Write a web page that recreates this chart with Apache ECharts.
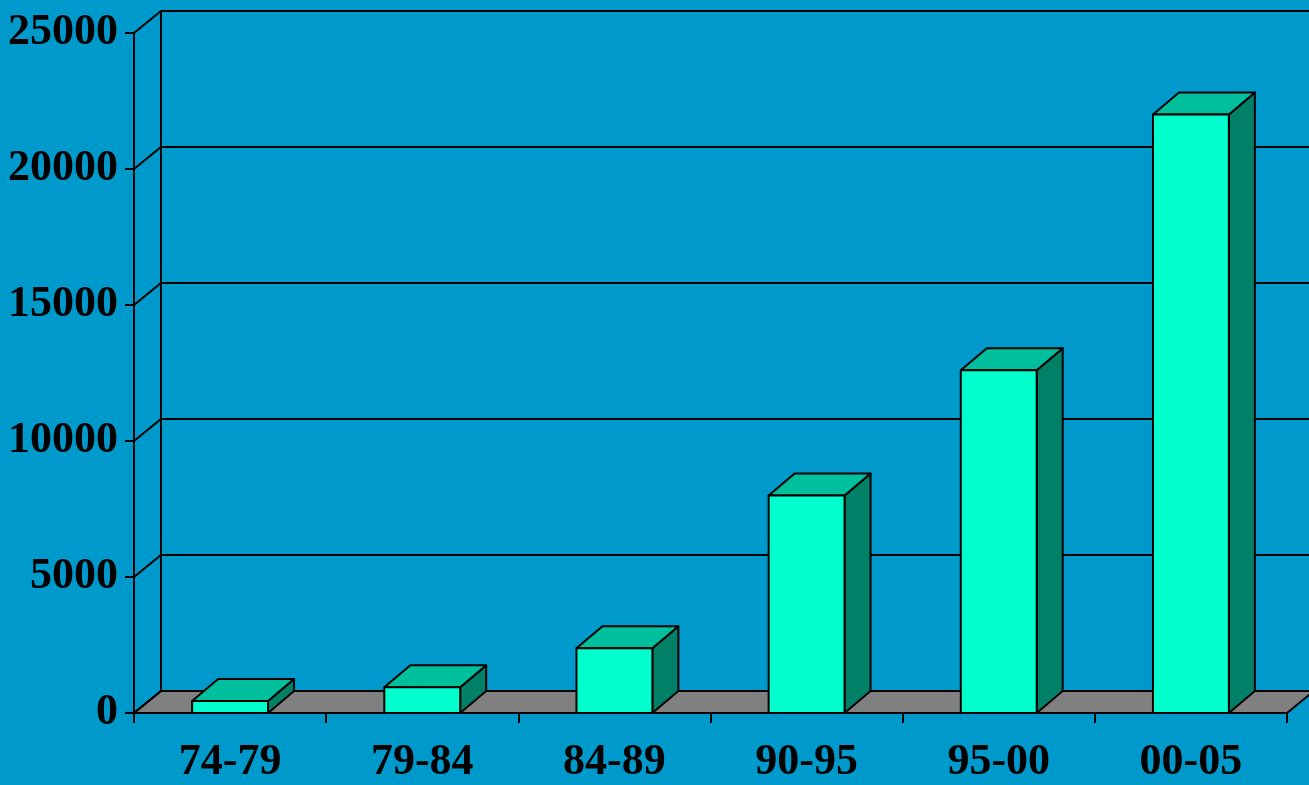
<!DOCTYPE html>
<html>
<head>
<meta charset="utf-8">
<script src="https://cdn.jsdelivr.net/npm/echarts@6/dist/echarts.min.js"></script>
<style>
  html, body { margin: 0; padding: 0; background: #0099cc; }
  #chart { width: 1309px; height: 785px; }
</style>
</head>
<body>
<div id="chart"></div>
<script>
// periods and values
var periods = ['74-79', '79-84', '84-89', '90-95', '95-00', '00-05'];
var counts = [440, 950, 2380, 8000, 12600, 22000];
var yTicks = [0, 5000, 10000, 15000, 20000, 25000];

// depth of the fake 3d box, pixels
var DX = 27, DY = -22;
var BAR_DX = 26;
var FONT = '"Liberation Serif", "Times New Roman", serif';

var chart = echarts.init(document.getElementById('chart'));

// floor, back wall and back grid lines
function renderFrame(params, api) {
    var cs = params.coordSys;
    var x0 = cs.x, x1 = cs.x + cs.width;
    var yBase = api.coord([0, 0])[1];
    var kids = [];
    kids.push({
        type: 'polygon',
        shape: { points: [[x0, yBase], [x1, yBase], [x1 + DX, yBase + DY], [x0 + DX, yBase + DY]] },
        style: { fill: '#808080', stroke: '#000', lineWidth: 2 }
    });
    var yTop = api.coord([0, yTicks[yTicks.length - 1]])[1];
    kids.push({
        type: 'line',
        shape: { x1: x0 + DX, y1: yBase + DY, x2: x0 + DX, y2: yTop + DY },
        style: { stroke: '#000', lineWidth: 2 }
    });
    for (var i = 0; i < yTicks.length; i++) {
        var y = api.coord([0, yTicks[i]])[1];
        kids.push({
            type: 'line',
            shape: { x1: x0, y1: y, x2: x0 + DX, y2: y + DY },
            style: { stroke: '#000', lineWidth: 2 }
        });
        if (i > 0) {
            kids.push({
                type: 'line',
                shape: { x1: x0 + DX, y1: y + DY, x2: x1 + DX + 10, y2: y + DY },
                style: { stroke: '#000', lineWidth: 2 }
            });
        }
    }
    return { type: 'group', children: kids };
}

function renderBar(params, api) {
    var idx = api.value(0);
    var base = api.coord([idx, 0]);
    var top = api.coord([idx, api.value(1)]);
    var w = api.size([1, 0])[0] * 0.395;
    var l = base[0] - w / 2, r = base[0] + w / 2;
    var yb = base[1], yt = top[1];
    var edge = { stroke: '#000', lineWidth: 2, lineJoin: 'round' };
    return {
        type: 'group',
        children: [
            {
                type: 'polygon',
                shape: { points: [[r, yb], [r + BAR_DX, yb + DY], [r + BAR_DX, yt + DY], [r, yt]] },
                style: Object.assign({ fill: '#008066' }, edge)
            },
            {
                type: 'polygon',
                shape: { points: [[l, yt], [r, yt], [r + BAR_DX, yt + DY], [l + BAR_DX, yt + DY]] },
                style: Object.assign({ fill: '#00bf9c' }, edge)
            },
            {
                type: 'rect',
                shape: { x: l, y: yt, width: w, height: yb - yt },
                style: Object.assign({ fill: '#00ffcc' }, edge)
            }
        ]
    };
}

var option = {
    backgroundColor: '#0099cc',
    animation: false,
    grid: { left: 134, right: 22, top: 33, bottom: 72 },
    xAxis: {
        type: 'category',
        data: periods,
        axisLine: { show: true, lineStyle: { color: '#000', width: 2 } },
        axisTick: { show: true, length: 10, lineStyle: { color: '#000', width: 2 } },
        axisLabel: { color: '#000', fontFamily: FONT, fontWeight: 'bold', fontSize: 44, margin: 28 },
        splitLine: { show: false }
    },
    yAxis: {
        type: 'value',
        min: 0,
        max: 25000,
        interval: 5000,
        axisLine: { show: true, lineStyle: { color: '#000', width: 2 } },
        axisTick: { show: true, length: 9, lineStyle: { color: '#000', width: 2 } },
        axisLabel: {
            color: '#000', fontFamily: FONT, fontWeight: 'bold', fontSize: 44, margin: 16,
            formatter: function (v) { return String(v); }
        },
        splitLine: { show: false }
    },
    series: [
        {
            type: 'custom',
            z: 1,
            silent: true,
            renderItem: renderFrame,
            data: [[0, 0]]
        },
        {
            type: 'custom',
            z: 3,
            renderItem: renderBar,
            encode: { x: 0, y: 1 },
            data: counts.map(function (v, i) { return [i, v]; })
        }
    ]
};
chart.setOption(option);
</script>
</body>
</html>
